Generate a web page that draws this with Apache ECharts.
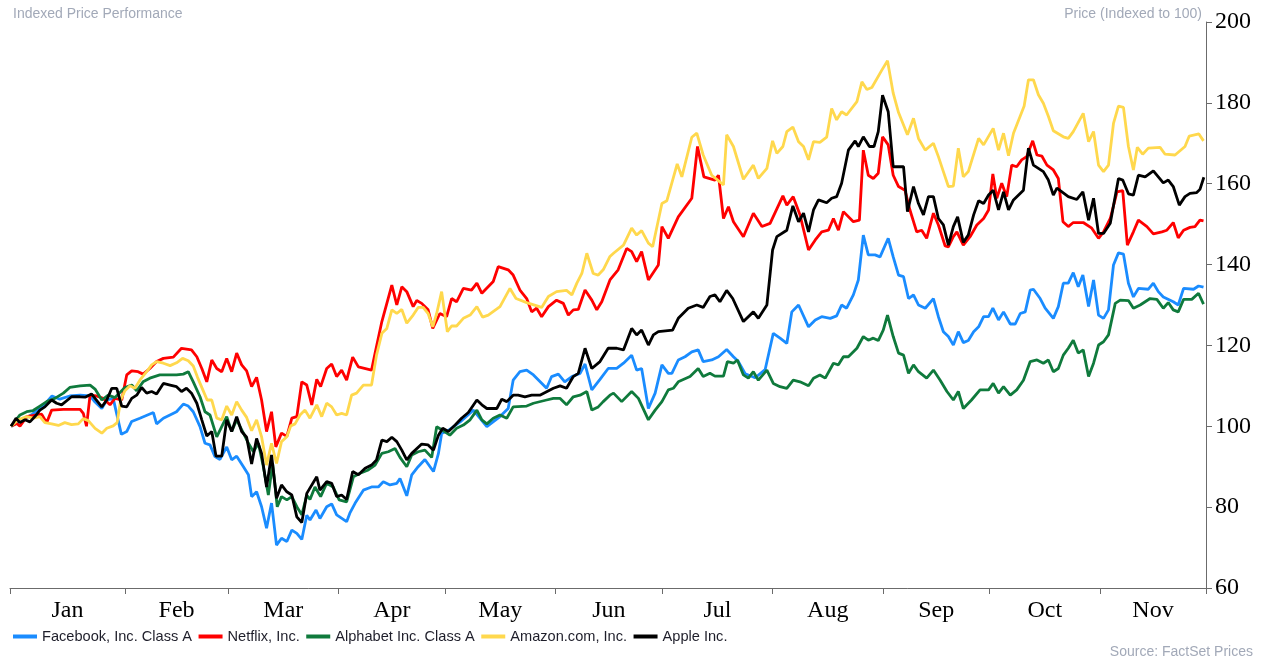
<!DOCTYPE html>
<html>
<head>
<meta charset="utf-8">
<title>Indexed Price Performance</title>
<script src="https://cdn.jsdelivr.net/npm/echarts@6/dist/echarts.min.js"></script>
<style>
    html, body { margin: 0; padding: 0; background: #fff; }
    #chart { width: 1265px; height: 659px; }
</style>
</head>
<body>
<div id="chart"></div>
<script>
/* ===== Data: x = day of year 2020 (Jan 1 = 0), y = price indexed to 100 ===== */
const monthNames = ["Jan", "Feb", "Mar", "Apr", "May", "Jun", "Jul", "Aug", "Sep", "Oct", "Nov"];
const monthStarts = [0, 31, 60, 91, 121, 152, 182, 213, 244, 274, 305];
const axisStart = -1.3;
const axisEnd = 334.8;
const yMin = 60, yMax = 200, yStep = 20;

const seriesNames = ["Facebook, Inc. Class A", "Netflix, Inc.", "Alphabet Inc. Class A", "Amazon.com, Inc.", "Apple Inc."];
const seriesColors = ["#1a8cff", "#ff0000", "#0f7a3c", "#ffd84d", "#000000"];

const facebook = [[-1,100],[2,101.5],[5,103],[8,105],[10.5,107.5],[12.7,106.7],[15.5,107.5],[18.4,107.7],[21.2,107.5],[22.6,106],[24.5,104.4],[25.9,106.5],[27.7,106.9],[30,98],[31.5,98.7],[32.9,101.2],[35.2,102],[39,103.4],[39.9,100.6],[41.8,102],[45.5,103.6],[47.4,105.5],[48.8,105],[50.2,103.6],[52.1,99.9],[53.5,95.8],[54.9,95.4],[56.3,92.5],[57.7,91.8],[59.6,94.9],[61,91.7],[62.4,92.6],[64.3,90],[65.7,88],[66.6,82.6],[68,83.8],[69.4,80.1],[70.8,74.8],[72.2,81],[73.6,70.6],[75,72.3],[76.5,71.5],[77.9,74.3],[79.3,73.5],[80.7,72],[82.1,78],[83,76.8],[84.7,79.3],[85.8,77.2],[87.7,80.1],[89.1,80.8],[90.5,78.1],[93.3,76.4],[94.2,78.5],[95.7,81],[98,84.2],[100.3,85],[102.2,85],[103.6,86.3],[105.5,85.5],[107.4,85.9],[108.3,87.1],[110.2,82.8],[111.6,88],[113.4,90],[115.3,91.8],[117.7,88.8],[119.1,93.3],[120,98.2],[121.9,99],[125.2,101.1],[128.9,104],[132.7,99.9],[136.4,102.4],[138.7,104.4],[140.1,111.4],[142,113.5],[143.9,113.9],[145.8,112.7],[149.5,109.4],[150.9,112.3],[152.8,112.9],[154.6,111],[156.6,112.3],[158.9,113.1],[160.3,115.4],[162.2,109],[164.5,111.6],[166.8,114.3],[169.2,114.3],[171.1,115.6],[173.4,117.6],[174.8,113.9],[176.2,114.3],[178.1,104.4],[180,108.2],[181.9,115.2],[183.7,113.1],[184.7,113.1],[186.5,116.4],[188.4,117.2],[190.3,118.4],[192.1,118.9],[193.5,116],[195.9,116.4],[197.8,117.2],[200.1,119],[202,117.2],[203.4,116],[205.3,113],[208.1,112],[210.9,114],[213.2,123],[215.1,121.8],[217,120.5],[218.4,128.3],[220.3,130],[223.1,124.6],[225,126.3],[226.8,127.1],[229.2,126.7],[231,127.3],[232.4,130],[233.8,129.2],[235.7,132.5],[237.1,136.2],[238.5,147.3],[239.9,142.4],[241.8,142.4],[243.2,141.9],[245.5,146.5],[246.9,141.9],[248.4,137.4],[249.8,137],[251.2,131.6],[252.6,132.5],[254,130],[255.9,129.2],[258.2,131.6],[259.6,127.1],[261,123.4],[262.4,122.2],[263.8,120.1],[265.2,123.4],[266.6,120.7],[268,121.2],[269.5,123.4],[270.9,124.6],[272.3,127.1],[273.7,127.1],[274.9,129.2],[276.5,126.3],[277.9,128.3],[279.8,125.3],[281.2,125.3],[282.6,127.9],[284,128.3],[285.4,133.7],[286.3,133.9],[288.2,131.6],[289.6,129.2],[291.9,126.7],[293.3,129.6],[294.7,135.4],[296.1,135.4],[297.5,138],[298.9,134.5],[300.2,137.4],[301.8,129.6],[303.2,136.2],[304.6,127.5],[306,126.7],[307.4,128.8],[308.8,139.9],[310.2,142.9],[311.6,142.6],[313,135.4],[314.4,132],[315.8,134.1],[318.6,133.9],[320,135.4],[321.4,133.3],[322.8,132],[325.6,130.8],[327,130],[328.5,134.1],[331.3,133.9],[332.7,134.7],[334.1,134.4]];

const netflix = [[-1,100],[0.6,100.7],[1.5,100],[3.4,102.4],[6.2,102.8],[7.6,103],[9,100.9],[10.4,104],[13.7,104.2],[18.4,104.2],[19.3,103.2],[20.2,100],[21.2,107.7],[23,107.5],[24.9,106.9],[26.8,105.3],[28.2,106.9],[30.1,106.5],[31.5,112.7],[32.9,113.7],[34.7,113.5],[36.1,112.9],[38,114.3],[39.9,116],[41.8,116.8],[44.6,117.1],[46.9,119.3],[49.7,118.9],[51.2,117.2],[52.6,114.3],[54,111],[55.4,116.4],[56.8,114.3],[58.2,113.5],[59.6,116.8],[61,113.5],[62.4,118.1],[63.8,115.2],[65.2,113.7],[66.6,109.8],[68,112.1],[69.4,106.5],[70.8,98.7],[72.2,103.6],[73.4,94.9],[75,98.3],[76.5,97.5],[77.9,102],[79.3,102.4],[80.7,111],[82.1,110.2],[83.5,105.3],[84.9,111.6],[86,109.8],[87.7,114.3],[89.1,115.4],[90.5,112.3],[91.9,113.9],[93.3,111.4],[95,117.1],[96.6,114.7],[100.3,113.9],[101.3,118.1],[103.2,125.9],[106,134.9],[107.4,130],[108.8,134.5],[110.2,133.3],[112,129.6],[113,131.1],[114.4,130.4],[116.2,128.8],[117.5,124.2],[119.5,127.9],[121.4,127.1],[122.8,131.6],[124.2,130.8],[126.1,134.1],[128.4,133.7],[129.9,135.4],[131.3,132.9],[134.5,135.8],[135.9,139.5],[138.7,138.7],[140.1,137.4],[142,133.7],[143.9,131.6],[145.3,128.3],[146.7,129.2],[148.1,127.1],[150,129.6],[152.3,131.2],[154.2,130.4],[155.6,127.5],[157,128.8],[158.4,128.9],[160.3,133.7],[162.2,131.2],[163.6,128.8],[165,130.8],[167.3,136.2],[169.6,138.7],[172,144],[173.4,143.2],[174.8,140.7],[176.2,143.2],[178.1,136.2],[180.9,139.9],[181.9,149.4],[183.7,146.5],[186.5,151.8],[190.3,156.4],[191.9,169.2],[193.7,161.7],[196.8,160.9],[197.8,162.1],[199.2,151.4],[200.6,154.3],[202,150.6],[204.8,146.9],[207.6,152.7],[210,149.4],[212.3,150.2],[215.9,157],[217,154.7],[218.8,156.8],[220.7,152.3],[223.1,143.6],[225,146.1],[226.8,148.1],[228.7,148.5],[230.1,151.4],[231.5,148.5],[232.9,153.1],[235.7,150.6],[237.4,151],[238.5,168.3],[239.9,162.1],[241.3,161.3],[242.7,162.6],[243.9,171.6],[245.5,169.6],[246.9,162.1],[248.4,159.3],[250.2,158.4],[251.6,153.5],[253.5,148.1],[254.9,148.5],[256.3,146.5],[258.2,152.7],[259.6,149.8],[261.5,144.6],[262.4,144.4],[263.8,146.9],[264.8,148.1],[266.6,144.8],[268.5,146.9],[270.4,149.8],[272.3,151.4],[273.7,153.5],[274.9,162.4],[276,156.4],[277.4,160.1],[278.8,156.8],[280.2,164.6],[281.6,164.2],[283,165.9],[284.4,166.7],[286.1,170.6],[287.3,167.1],[288.7,166.8],[290.1,164.6],[291.9,163.4],[293.3,161.3],[294.6,150.6],[296.1,149.4],[297.5,150.4],[300.3,150.4],[302.7,149],[304.6,146.5],[306,148.1],[307.9,151.4],[309.8,158],[311.4,158.3],[312.7,144.8],[314.4,148.1],[315.8,151],[318.2,149.4],[320,147.6],[322.4,148.1],[323.8,148.5],[325.6,150.4],[327,146.6],[328.5,148.5],[330.3,149.2],[331.7,149.4],[333.1,151],[334.1,150.8]];

const alphabet = [[-1,100],[1.5,102.8],[3.4,103.6],[5.2,103.9],[7.1,105],[9,106.1],[11.3,106.9],[13.7,108.2],[15.5,109.6],[18.4,110],[21.2,110.2],[22.6,109.2],[24.5,106.5],[26.3,107.7],[28.2,107.1],[31,109.6],[32.9,110.2],[34.3,108.8],[36.1,111],[38,111.9],[40.8,112.7],[45.5,112.7],[47.4,112.9],[48.8,113.5],[50.2,111],[52.1,107.3],[53.5,103.6],[54.9,102.8],[56.8,97.4],[58.2,99.9],[59.6,102.4],[61,98.7],[62.4,101.6],[64.3,98.3],[65.7,95.8],[67.1,93.7],[68.5,95.8],[69.9,90],[71.3,83],[72.5,90.8],[73.8,80.1],[75,82.6],[76.5,81.8],[77.9,82.6],[79.3,80.1],[80.7,78.1],[82.1,83],[83,81.9],[84.4,85],[86,82.6],[87.7,85.9],[89.5,85],[91.2,81.8],[93.3,81.3],[95.2,87.5],[97.1,88.4],[99.4,89.2],[101.3,90.4],[103.2,93.3],[105,93.7],[106.9,94.5],[108.3,92.3],[110.2,90],[111.6,92.9],[113.4,93.7],[115.3,94.1],[117.2,92.3],[118.6,99.9],[120.5,98.9],[122.3,97.8],[124.2,99.5],[126.1,100.3],[128,101.6],[129.9,104],[131.3,101.6],[132.7,100.6],[134.5,102],[136.4,102.8],[138.3,102],[140.1,104.8],[143.9,105],[145.8,105.7],[149.5,106.5],[151.4,106.9],[153.3,106.9],[155.1,105.3],[157,107.3],[158.9,107.7],[160.8,108.6],[162.2,104],[164,104.8],[165.4,106.1],[167.3,107.7],[168.3,108.2],[170.6,106.1],[173.4,108.6],[175.3,106.9],[178.1,101.6],[180,104],[181.9,106.1],[183.7,109],[185.1,109.4],[186.5,111],[189.8,112.3],[192.1,114.3],[193.5,112.3],[195.4,113.1],[196.8,112.4],[199.2,112.4],[200.3,116],[202,115.6],[203.1,116.4],[204.8,112.7],[206.2,111.9],[207.6,113.5],[209,111.4],[211.4,113.9],[213.2,110.6],[215.1,109.8],[217,109.4],[218.8,111.4],[220.7,111],[223.1,110],[224.5,111.9],[226.3,112.7],[227.8,111.9],[230.1,115.6],[231.5,115.2],[232.9,117.2],[234.3,117.2],[236.7,119.3],[238.5,122.2],[239.9,121.3],[241.3,121.8],[242.7,121.2],[244.1,123.8],[245.3,127.5],[246.9,122.2],[248.4,118.1],[249.8,117.6],[251.2,113.1],[252.6,115.2],[254,113.5],[256.3,111.9],[258.2,113.9],[260.1,111.4],[262,108.6],[263.8,106.5],[265.2,108.6],[266.6,104.4],[268.9,106.5],[271.3,109],[273.7,109],[275,110.6],[276.5,108.2],[277.9,109.8],[279.8,107.7],[281.6,109],[283.5,111.4],[285.4,116],[287.3,116.4],[289.1,115.6],[290.5,116.4],[291.9,113.5],[293.3,114.3],[294.7,117.6],[296.1,119.3],[297.5,121.3],[298.9,118.1],[300.3,118.9],[301.8,112.3],[303.2,115.6],[304.6,120.1],[306,120.9],[307.4,122.6],[309.3,130.4],[310.7,131.2],[313,131.1],[314.4,129.2],[316.3,130],[319.1,131.6],[321,131.4],[322.8,129.2],[324.2,130.6],[325.6,128.8],[327,128.3],[328.5,131.4],[330.8,131.4],[332.7,132.9],[334.1,130.2]];

const amazon = [[-1,100],[1,101.6],[3.4,102.4],[5.2,102],[7.1,102.4],[8.5,100.9],[10.4,100.6],[12.3,100.2],[14.1,100.9],[16,100.4],[17.9,100.6],[19.3,101.9],[20.7,101.4],[22.6,99.5],[24.5,98.3],[25.9,99.5],[27.7,100.1],[28.8,100.9],[29.8,106.5],[31,108.8],[32.4,110],[33.8,109.4],[35.2,111.4],[37.1,113.5],[38.5,115.2],[39.9,116],[41.8,115.6],[43.7,115],[45.5,115.7],[47.2,116.8],[48.8,116.2],[50.2,114.9],[51.4,112.1],[52.8,109.2],[54.1,106.5],[55.4,106.5],[56.8,102],[58.2,101.6],[59.6,105],[61,102.8],[62.4,106.1],[63.8,104],[65.2,102.2],[66.6,98.9],[68,101.6],[69.4,97.4],[70.8,90.4],[72.2,95.8],[73.6,90.8],[75,96.2],[76.5,97.4],[77.6,100.1],[78.8,100.6],[80.2,102.8],[81.6,104],[83,102],[84.9,105.3],[86.3,102.4],[87.7,105.7],[89.1,104.8],[90.5,102.8],[91.9,103.2],[93.3,102.8],[94.7,107.7],[96.1,108.2],[98,110.2],[100.3,110.2],[101.7,117.6],[103.2,123],[104.6,124.2],[106,128.8],[107.4,127.9],[108.8,128.9],[110.2,125.5],[112,127.5],[113.4,129.4],[114.8,129.4],[116.2,127.9],[117.5,124.6],[118.6,127.9],[120,133.3],[121.6,123.4],[122.8,124.8],[124.2,124.8],[126.1,126.7],[128,127.5],[129.9,129.6],[131.5,127],[133.1,127.5],[136.4,129.6],[139.2,134.1],[140.9,131.6],[143.9,130.6],[148.1,129.4],[150,132.1],[152.3,133.3],[155.1,133.6],[156.6,132.5],[158,135.4],[159.4,137.8],[160.8,142.8],[162.6,137.8],[164,137.4],[165.4,138.7],[167.3,142],[168.3,142.8],[171.1,144.8],[173.4,149],[174.8,147.3],[176.2,148.4],[178.1,145.3],[179.3,144.4],[181.9,155.1],[183.3,155.8],[186.2,164.9],[187.5,161.7],[190.3,171.5],[191.7,172.5],[193.5,167.1],[195.9,162.1],[199.2,159.7],[200.1,172.1],[202,169.2],[204.8,161.1],[207.6,164.6],[209,161.3],[211.4,163.8],[213,170.6],[214.2,167.5],[215.9,169.2],[217,172.9],[218.7,174],[220.3,170.4],[221.7,169.2],[223.1,165.9],[224.5,170.4],[226.3,170.2],[228.2,171.5],[229.6,178.6],[231,175.8],[232.4,177.8],[233.8,177],[236.7,180.3],[238.1,185.2],[239.5,183.3],[240.9,183.8],[243.7,188.1],[245.3,190.4],[246.9,182.4],[248.4,177.6],[250.9,172.1],[252.6,176.2],[254,171.2],[255.9,168.3],[258.2,170],[259.6,166.7],[261,163],[262.4,159.3],[263.8,159.4],[265.2,168.8],[266.6,161.7],[268,163],[270.9,171.2],[272.3,169.6],[275,173.7],[276.5,168.3],[277.9,172.5],[279.3,166.9],[280.7,172.5],[283.7,179.2],[284.9,185.7],[286.3,185.7],[287.7,182],[289.1,179.9],[290.5,176.7],[291.9,173.1],[294.7,171.6],[296.1,171.2],[297.5,172.9],[300.3,177.4],[301.8,170.4],[303.2,172.9],[304.6,164.6],[306,163],[307.4,164.6],[308.8,174.9],[310.2,179.2],[311.6,178.9],[313,169.2],[314.4,163.4],[315.5,169],[317,167.3],[318.6,168.8],[321.9,169],[323.3,167.3],[326.1,167.1],[328.9,169.2],[330.1,171.8],[332.8,172.3],[334.1,170.6]];

const apple = [[-1,100],[0.4,102],[1.5,100.9],[2.9,101.6],[4.3,101.1],[5.7,102.4],[7.1,104],[8.5,104.8],[10.4,106.5],[11.8,105.7],[13.2,105.3],[16,107.3],[18.4,107.3],[19.8,107.2],[21.6,108],[24.5,104.8],[25.9,106.5],[27.3,109.4],[28.7,109.4],[30.1,105],[31.5,104.8],[32.9,106.9],[34.3,107.7],[35.7,109.6],[37.1,108.2],[38.5,108.6],[39.9,108],[41.8,110.6],[43.7,110.2],[45.5,109.8],[46.9,108.6],[48.3,109.4],[49.7,108.2],[51.2,105.7],[52.6,101.6],[54,97.6],[55.4,98.7],[56.6,92.6],[58.2,92.6],[59.6,101.6],[61,98.7],[62.4,102.4],[63.8,98.7],[65.2,97.3],[66.6,90.7],[68,97],[69.4,93.3],[70.8,85],[72.2,92.9],[73.6,82.2],[75,85.5],[76.5,83.8],[77.9,83],[79.3,77.6],[80.7,76.2],[82.1,83.4],[84.9,87.5],[85.8,84.2],[87.7,86.3],[89.1,85.9],[90.5,82.6],[91.9,83],[93.3,81.9],[95,88.8],[96.6,88],[98.5,89.6],[100.3,90.4],[101.7,91.7],[103.2,96.6],[104.6,96.2],[106,97.3],[107.4,96.2],[108.8,94.1],[110.2,91.7],[111.6,93.3],[114.4,95.6],[116.2,95.4],[117.7,94.1],[119.1,97.8],[120.3,99.5],[121.9,98.7],[123.8,100.3],[125.6,102],[127.5,103.4],[129.9,106.5],[131.3,105.3],[132.7,104.4],[135.5,104.4],[136.9,106.7],[138.3,106.1],[140.1,107.7],[141.5,107.7],[143.4,107.3],[145.3,107.7],[147.6,107.7],[151.4,109.4],[153.3,110],[155.1,109.4],[157,112.3],[158.4,113.1],[160.3,119.3],[162.2,114.3],[164.5,116],[166.8,119.3],[169.2,119.3],[171.1,118.9],[173.4,124.2],[174.8,122.6],[176.2,123.8],[178.1,120.1],[179.5,122.6],[180.9,123.4],[184.9,123.8],[186.5,126.7],[189.3,129.2],[191.7,130],[193.5,129.4],[195.4,132.1],[196.8,132.5],[198.2,130.8],[200.1,133.6],[201.8,131.6],[204.8,125.9],[207.6,128.3],[209,126.7],[211.4,130],[213,143.6],[214.2,146.9],[217,148.5],[218.7,154.5],[220.3,150.6],[221.7,152.7],[223.1,148.1],[224.5,153.5],[225.9,156],[228.2,155.3],[229.6,156.4],[231,156.8],[232.4,160.1],[234.3,168.3],[236.2,170.6],[237.1,169.2],[238.5,171.6],[240.2,169.2],[241.5,169.2],[242.7,172.9],[243.9,181.9],[245.5,177.8],[246.9,164.2],[249.8,164.2],[250.9,153.1],[252.6,159.3],[254,155.1],[255.4,152.3],[256.8,156.8],[258.2,156.8],[259.6,151.4],[261,149.8],[262.4,144.8],[263.8,149.4],[265,151.8],[266.6,145.5],[268,147.3],[269.5,152.3],[270.9,155.8],[272.3,155.1],[273.7,157.2],[275,158.4],[276.5,153.5],[277.9,158],[279.3,153.5],[280.7,156],[283.5,158.4],[284.9,168.8],[286.3,164.6],[289.1,163],[290.5,160.9],[291.9,157.2],[292.9,158.9],[296.1,156.8],[298.5,156.1],[300.2,158],[301.8,151],[303.2,156.4],[304.6,147.7],[306,147.7],[307.9,150.2],[310.2,161.3],[311.4,160.9],[313,157.5],[314.4,157.2],[315.8,162.1],[317.7,161.7],[320,163.2],[321.4,161.7],[322.8,160.2],[324.2,160.9],[325.6,159.3],[327.3,154.7],[328.9,156.8],[330.3,157.6],[332.2,157.8],[333.1,158.6],[334.2,161.6]];

const seriesData = [facebook, netflix, alphabet, amazon, apple];

/* ===== Axis helpers ===== */
// ticks on month boundaries, labels centred in each visible month
const tickValues = [axisStart].concat(monthStarts.slice(1), [axisEnd]);
const labelValues = monthNames.map((m, i) => {
    const lo = i === 0 ? axisStart : monthStarts[i];
    const hi = i === monthNames.length - 1 ? axisEnd : monthStarts[i + 1];
    return (lo + hi) / 2;
});

function monthLabel(value) {
    let best = 0;
    labelValues.forEach((v, i) => {
        if (Math.abs(v - value) < Math.abs(labelValues[best] - value)) best = i;
    });
    return monthNames[best];
}

const SANS = "'Liberation Sans', Arial, sans-serif";
const SERIF = "'Liberation Serif', 'Times New Roman', serif";
const AXIS_COLOR = "#6b6b6b";
const NOTE_COLOR = "#a2a9b8";

/* ===== Chart ===== */
const chart = echarts.init(document.getElementById("chart"));

chart.setOption({
    animation: false,
    backgroundColor: "#ffffff",
    title: [
        {
            text: "Indexed Price Performance",
            left: 13, top: 7, padding: 0,
            textStyle: { fontFamily: SANS, fontSize: 14, fontWeight: "normal", color: NOTE_COLOR },
        },
        {
            text: "Price (Indexed to 100)",
            right: 63, top: 7, padding: 0,
            textStyle: { fontFamily: SANS, fontSize: 14, fontWeight: "normal", color: NOTE_COLOR },
        },
        {
            text: "Source: FactSet Prices",
            right: 12, top: 645, padding: 0,
            textStyle: { fontFamily: SANS, fontSize: 14, fontWeight: "normal", color: NOTE_COLOR },
        },
    ],
    legend: {
        left: 13,
        top: 629,
        padding: 0,
        itemGap: 6.5,
        itemWidth: 24,
        itemHeight: 4,
        icon: "rect",
        data: seriesNames,
        textStyle: { fontFamily: SANS, fontSize: 14.6, color: "#1e1e2a" },
        selectedMode: false,
    },
    grid: {
        left: 10, right: 59, top: 22, bottom: 71,
        containLabel: false,
        outerBoundsMode: "none",
    },
    xAxis: {
        type: "value",
        min: axisStart,
        max: axisEnd,
        axisLine: { show: true, onZero: false, lineStyle: { color: AXIS_COLOR, width: 1 } },
        axisTick: { show: true, length: 6, customValues: tickValues, lineStyle: { color: AXIS_COLOR } },
        axisLabel: {
            customValues: labelValues,
            formatter: monthLabel,
            margin: 11,
            fontFamily: SERIF, fontSize: 24, color: "#000",
        },
        splitLine: { show: false },
    },
    yAxis: {
        type: "value",
        position: "right",
        min: yMin,
        max: yMax,
        interval: yStep,
        axisLine: { show: true, onZero: false, lineStyle: { color: AXIS_COLOR, width: 1 } },
        axisTick: { show: true, length: 6, lineStyle: { color: AXIS_COLOR } },
        axisLabel: { margin: 9, fontFamily: SERIF, fontSize: 24, color: "#000" },
        splitLine: { show: false },
    },
    series: seriesNames.map((name, i) => ({
        name: name,
        type: "line",
        data: seriesData[i],
        showSymbol: false,
        symbol: "none",
        smooth: false,
        color: seriesColors[i],
        lineStyle: { width: 2.8, color: seriesColors[i] },
        emphasis: { disabled: true },
        z: 2 + i,
    })),
});
</script>
</body>
</html>
